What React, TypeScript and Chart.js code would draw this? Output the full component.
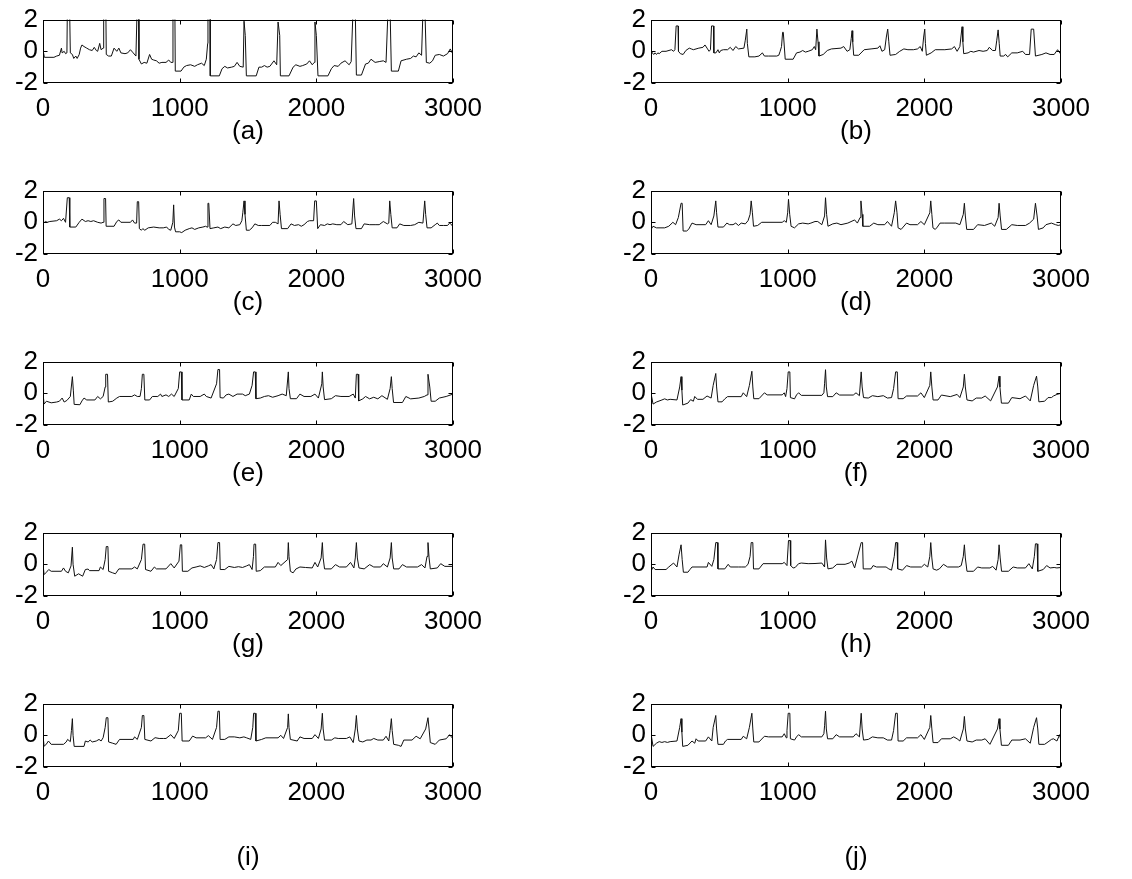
import React, { useEffect, useRef } from "react";
import { Chart, registerables } from "chart.js";

Chart.register(...registerables);

// ---- data ----
const xTicks = [0, 1000, 2000, 3000];
const yTicks = [-2, 0, 2];
const panelLabels = ["(a)", "(b)", "(c)", "(d)", "(e)", "(f)", "(g)", "(h)", "(i)", "(j)"];

const seriesA: [number, number][] = [
  [0,0.1],[10,-0.38],[80,-0.38],[100,-0.3],[120,-0.25],[135,0.2],[140,-0.1],[155,0.0],[165,-0.15],[175,-0.1],[178,2.5],[195,2.5],[200,-0.1],[215,-0.2],[225,-0.45],[240,-0.3],[250,-0.45],[265,-0.2],[275,0.2],[285,0.4],[300,0.3],[320,0.2],[340,0.1],[360,0.05],[375,0.25],[390,0.05],[400,0.0],[415,0.5],[425,0.1],[440,0.2],[444,2.5],[460,2.5],[463,-0.2],[480,-0.3],[500,-0.3],[520,0.2],[540,0.0],[555,0.2],[570,-0.1],[600,-0.15],[620,-0.1],[640,0.1],[660,-0.1],[680,-0.3],[688,2.5],[700,2.5],[702,-0.5],[720,-0.8],[740,-0.7],[760,-0.75],[780,-0.2],[795,-0.5],[810,-0.55],[830,-0.6],[850,-0.75],[870,-0.7],[900,-0.7],[920,-0.55],[935,-0.7],[945,-0.7],[951,2.5],[965,2.5],[968,-1.25],[1010,-1.25],[1030,-1.0],[1050,-0.9],[1080,-0.85],[1110,-0.95],[1130,-0.85],[1160,-0.75],[1180,-0.9],[1195,-0.5],[1205,0.5],[1207,2.5],[1222,2.5],[1224,-1.55],[1290,-1.55],[1310,-1.1],[1330,-0.95],[1350,-1.05],[1380,-1.0],[1400,-0.95],[1420,-0.7],[1440,-0.95],[1465,-1.0],[1471,1.9],[1480,1.0],[1488,-1.55],[1560,-1.55],[1580,-1.0],[1600,-1.0],[1620,-0.9],[1640,-1.0],[1660,-0.95],[1690,-0.6],[1710,-0.85],[1720,1.85],[1732,1.0],[1737,-1.55],[1800,-1.55],[1830,-1.0],[1850,-0.85],[1880,-0.95],[1900,-0.9],[1930,-0.8],[1950,-0.6],[1970,-0.85],[1985,-0.7],[1990,1.85],[2000,1.0],[2012,-1.55],[2085,-1.55],[2110,-1.1],[2130,-0.9],[2160,-0.95],[2180,-0.75],[2210,-0.6],[2240,-0.85],[2255,-0.65],[2268,2.5],[2285,2.5],[2293,-1.5],[2330,-1.5],[2360,-0.8],[2380,-0.75],[2400,-0.5],[2430,-0.7],[2460,-0.65],[2490,-0.6],[2510,-0.7],[2524,2.5],[2540,2.5],[2549,-1.25],[2600,-1.25],[2620,-0.6],[2660,-0.5],[2690,-0.45],[2710,-0.3],[2730,-0.35],[2750,-0.1],[2770,-0.25],[2780,2.5],[2795,2.5],[2805,-0.7],[2830,-0.75],[2850,-0.6],[2870,-0.25],[2900,-0.2],[2930,-0.3],[2960,-0.15],[2980,0.15],[3000,-0.2]
];

const seriesB: [number, number][] = [
  [0,0.1],[10,-0.1],[20,-0.2],[30,-0.1],[40,-0.2],[50,-0.1],[60,-0.15],[80,0.0],[110,0.0],[150,0.1],[165,0.0],[175,0.1],[184,1.6],[198,1.6],[201,0.0],[215,-0.15],[235,-0.2],[255,0.05],[280,0.2],[295,0.15],[310,0.1],[350,0.2],[380,0.25],[395,0.4],[410,0.2],[425,0.0],[435,0.1],[443,1.6],[457,1.6],[460,-0.1],[475,-0.1],[490,0.1],[500,-0.1],[510,0.05],[530,0.1],[560,0.1],[580,0.25],[600,0.05],[620,0.3],[640,0.15],[680,0.2],[690,0.7],[701,1.4],[705,0.5],[716,-0.35],[760,-0.35],[790,-0.3],[815,-0.1],[830,-0.3],[860,-0.3],[920,-0.3],[935,-0.25],[945,0.0],[955,0.3],[963,1.2],[968,1.2],[982,-0.5],[1040,-0.5],[1065,-0.1],[1090,-0.05],[1110,0.05],[1130,-0.05],[1150,0.0],[1180,0.1],[1195,0.3],[1205,0.1],[1214,1.4],[1222,0.6],[1229,-0.3],[1260,-0.2],[1290,0.05],[1320,0.15],[1390,0.2],[1410,0.3],[1435,0.0],[1455,0.1],[1465,0.8],[1471,1.3],[1476,0.6],[1483,-0.25],[1520,-0.25],[1560,0.1],[1610,0.15],[1660,0.2],[1675,0.35],[1690,0.0],[1710,0.1],[1722,0.9],[1732,1.4],[1740,0.6],[1749,-0.25],[1790,-0.2],[1820,0.0],[1850,0.15],[1880,0.1],[1920,0.1],[1950,0.15],[1970,0.3],[1985,0.0],[1995,0.9],[2003,1.4],[2008,0.5],[2015,-0.25],[2050,-0.1],[2080,0.1],[2150,0.1],[2200,0.15],[2220,0.3],[2240,0.0],[2260,0.3],[2276,1.55],[2282,0.6],[2288,-0.15],[2320,-0.1],[2340,0.0],[2360,-0.05],[2400,0.05],[2430,0.0],[2460,0.05],[2475,0.25],[2500,0.05],[2520,0.05],[2530,0.7],[2540,1.35],[2548,0.5],[2555,-0.3],[2580,-0.3],[2595,-0.2],[2610,-0.35],[2640,-0.1],[2680,-0.1],[2720,0.0],[2740,-0.2],[2770,-0.2],[2782,1.4],[2800,1.4],[2813,-0.3],[2860,-0.2],[2890,-0.1],[2920,-0.2],[2950,-0.2],[2975,0.1],[3000,-0.2]
];

const seriesC: [number, number][] = [
  [0,0.05],[10,0.0],[20,0.05],[30,0.0],[50,0.05],[100,0.1],[120,0.2],[135,0.1],[150,0.25],[165,0.0],[178,1.55],[192,1.55],[196,-0.3],[240,-0.3],[265,0.0],[285,0.2],[310,0.05],[330,0.1],[350,0.05],[370,0.1],[400,0.0],[425,-0.05],[440,0.0],[446,1.5],[458,1.5],[462,-0.25],[520,-0.25],[540,0.05],[555,0.15],[570,0.0],[640,0.0],[655,0.15],[670,-0.05],[685,-0.05],[690,1.3],[700,1.3],[705,-0.4],[720,-0.5],[730,-0.4],[745,-0.5],[770,-0.35],[810,-0.3],[850,-0.35],[880,-0.35],[905,-0.3],[920,-0.45],[935,-0.5],[950,0.0],[956,1.1],[962,-0.3],[970,-0.6],[1000,-0.6],[1015,-0.65],[1040,-0.5],[1070,-0.4],[1090,-0.35],[1110,-0.45],[1140,-0.35],[1170,-0.3],[1190,-0.25],[1200,-0.3],[1207,1.2],[1213,1.2],[1222,-0.4],[1250,-0.35],[1280,-0.3],[1300,-0.4],[1330,-0.3],[1360,-0.35],[1390,-0.1],[1410,-0.2],[1440,-0.15],[1455,0.1],[1462,0.6],[1471,1.35],[1478,0.5],[1488,-0.5],[1510,-0.5],[1530,-0.35],[1550,-0.1],[1575,-0.2],[1600,-0.2],[1660,-0.2],[1680,0.0],[1700,0.0],[1720,-0.1],[1727,1.35],[1735,0.5],[1745,-0.4],[1790,-0.4],[1815,-0.1],[1840,-0.2],[1870,-0.15],[1890,-0.25],[1910,-0.15],[1935,0.05],[1950,0.1],[1980,0.1],[1988,1.35],[2000,1.35],[2010,-0.4],[2030,-0.15],[2060,-0.2],[2080,-0.1],[2100,-0.15],[2120,-0.1],[2150,-0.15],[2180,-0.15],[2200,0.05],[2230,-0.15],[2260,-0.1],[2273,1.5],[2280,0.4],[2290,-0.4],[2330,-0.4],[2350,-0.1],[2390,-0.15],[2430,-0.15],[2460,-0.15],[2490,0.05],[2520,-0.1],[2530,-0.05],[2537,1.35],[2545,0.5],[2555,-0.35],[2590,-0.35],[2610,-0.1],[2640,-0.2],[2690,-0.2],[2720,-0.15],[2750,0.0],[2780,-0.05],[2793,1.35],[2800,0.5],[2810,-0.35],[2840,-0.35],[2870,-0.15],[2885,-0.05],[2900,-0.2],[2930,-0.2],[2960,-0.2],[2975,-0.05],[2990,-0.15],[3000,-0.3]
];

const seriesD: [number, number][] = [
  [0,-0.45],[15,-0.25],[40,-0.35],[100,-0.35],[130,-0.25],[160,0.0],[180,-0.15],[200,0.3],[220,1.2],[228,1.2],[235,-0.55],[260,-0.55],[275,-0.45],[300,-0.05],[330,-0.15],[400,-0.15],[420,0.1],[440,-0.15],[460,0.4],[474,1.35],[480,0.6],[490,-0.3],[530,-0.3],[555,-0.05],[575,-0.15],[600,-0.15],[620,-0.05],[640,-0.2],[660,-0.05],[690,-0.1],[710,0.1],[725,0.5],[733,1.35],[742,0.6],[750,-0.25],[780,-0.2],[810,0.0],[960,0.0],[975,0.1],[990,0.0],[1000,0.6],[1006,1.45],[1015,0.5],[1025,-0.25],[1050,-0.35],[1080,-0.1],[1110,-0.05],[1150,-0.1],[1170,-0.05],[1200,0.05],[1220,0.05],[1250,-0.15],[1270,0.4],[1277,1.55],[1285,0.5],[1295,-0.25],[1330,-0.1],[1360,-0.05],[1390,-0.15],[1440,-0.05],[1490,0.15],[1510,-0.05],[1530,0.3],[1536,1.35],[1545,0.5],[1550,-0.25],[1600,-0.25],[1630,-0.05],[1660,-0.15],[1710,-0.15],[1730,0.05],[1760,-0.25],[1780,0.6],[1790,1.35],[1800,0.6],[1808,-0.35],[1830,-0.45],[1845,-0.3],[1870,-0.05],[1895,-0.15],[1950,-0.15],[1975,0.05],[2000,-0.15],[2040,0.6],[2047,1.35],[2055,0.5],[2063,-0.35],[2080,-0.45],[2095,-0.3],[2115,-0.05],[2150,-0.05],[2230,-0.05],[2260,-0.15],[2285,0.5],[2293,1.2],[2300,0.4],[2310,-0.45],[2360,-0.45],[2390,-0.15],[2440,-0.2],[2490,-0.05],[2515,-0.25],[2540,0.3],[2547,1.2],[2555,0.4],[2565,-0.45],[2600,-0.45],[2640,-0.15],[2680,-0.2],[2740,-0.2],[2770,-0.05],[2800,0.2],[2813,1.2],[2825,0.4],[2835,-0.45],[2870,-0.35],[2890,-0.15],[2930,-0.05],[2960,-0.15],[2980,-0.2],[3000,-0.15]
];

const seriesE: [number, number][] = [
  [0,0.0],[8,-0.68],[25,-0.5],[60,-0.6],[100,-0.55],[120,-0.5],[140,-0.3],[155,-0.55],[175,-0.45],[200,-0.2],[215,1.05],[222,0.2],[228,-0.7],[270,-0.72],[285,-0.48],[300,-0.3],[320,-0.42],[380,-0.42],[400,-0.2],[420,-0.35],[440,-0.2],[455,0.4],[459,1.2],[472,1.2],[478,-0.55],[510,-0.5],[540,-0.3],[560,-0.2],[650,-0.2],[670,-0.1],[690,-0.2],[710,-0.2],[720,0.3],[727,1.2],[738,1.2],[745,-0.42],[780,-0.42],[800,-0.2],[840,-0.2],[860,-0.05],[870,-0.2],[900,-0.1],[920,-0.2],[940,-0.05],[960,-0.2],[990,0.3],[1000,1.35],[1012,1.35],[1017,-0.42],[1070,-0.42],[1085,-0.05],[1100,-0.2],[1150,-0.2],[1180,-0.05],[1195,-0.2],[1230,-0.3],[1270,0.6],[1280,1.5],[1292,1.5],[1296,-0.27],[1320,-0.3],[1340,-0.1],[1360,-0.05],[1390,-0.2],[1420,-0.05],[1460,-0.05],[1480,-0.15],[1510,-0.05],[1530,0.5],[1541,1.35],[1553,1.35],[1558,-0.34],[1590,-0.3],[1620,-0.2],[1650,-0.15],[1680,-0.25],[1720,-0.15],[1750,-0.05],[1780,-0.15],[1795,1.35],[1800,0.3],[1810,-0.34],[1855,-0.34],[1880,-0.05],[1910,-0.2],[1960,-0.2],[1990,-0.05],[2015,-0.3],[2040,0.6],[2044,1.35],[2050,0.4],[2060,-0.4],[2110,-0.34],[2140,-0.15],[2180,-0.2],[2240,-0.2],[2270,-0.05],[2285,-0.3],[2293,1.2],[2305,1.2],[2310,-0.48],[2340,-0.35],[2360,-0.2],[2390,-0.35],[2420,-0.25],[2450,-0.35],[2480,-0.15],[2520,-0.38],[2540,0.3],[2549,1.05],[2555,0.3],[2565,-0.58],[2630,-0.58],[2655,-0.2],[2690,-0.35],[2750,-0.3],[2790,-0.2],[2810,-0.1],[2817,1.2],[2830,0.4],[2840,-0.5],[2870,-0.5],[2900,-0.3],[2950,-0.2],[3000,-0.05]
];

const seriesF: [number, number][] = [
  [0,0.0],[15,-0.68],[40,-0.55],[80,-0.42],[100,-0.35],[120,-0.42],[140,-0.38],[190,-0.42],[210,0.4],[220,1.05],[226,0.2],[232,-0.74],[270,-0.62],[290,-0.4],[310,-0.5],[320,-0.2],[340,-0.38],[380,-0.38],[410,-0.17],[440,-0.3],[455,0.5],[474,1.25],[480,0.4],[490,-0.54],[520,-0.54],[540,-0.35],[560,-0.21],[660,-0.21],[675,0.03],[700,-0.21],[720,0.5],[738,1.39],[745,0.4],[752,-0.34],[790,-0.34],[830,0.03],[850,-0.1],[960,-0.1],[975,0.03],[985,-0.21],[995,0.3],[1004,1.35],[1016,1.35],[1020,-0.27],[1050,-0.35],[1065,-0.1],[1080,0.03],[1100,-0.13],[1250,-0.13],[1265,0.03],[1270,0.6],[1277,1.49],[1283,0.4],[1292,-0.21],[1330,-0.21],[1355,0.03],[1380,-0.11],[1480,-0.11],[1500,0.03],[1525,-0.15],[1538,1.35],[1545,0.4],[1555,-0.27],[1590,-0.3],[1620,-0.15],[1660,-0.21],[1700,-0.15],[1730,-0.3],[1760,-0.27],[1775,0.3],[1790,1.35],[1802,1.35],[1808,-0.34],[1845,-0.34],[1870,-0.17],[1950,-0.17],[1975,0.03],[2000,-0.27],[2040,0.5],[2047,1.35],[2055,0.4],[2064,-0.42],[2100,-0.42],[2125,-0.11],[2190,-0.21],[2240,-0.07],[2260,-0.27],[2285,0.4],[2293,1.2],[2300,0.4],[2312,-0.42],[2350,-0.48],[2380,-0.3],[2420,-0.3],[2445,-0.17],[2485,-0.48],[2535,0.4],[2547,1.08],[2553,0.4],[2564,-0.62],[2615,-0.62],[2640,-0.27],[2700,-0.34],[2740,-0.17],[2775,-0.48],[2800,0.5],[2821,1.08],[2830,0.4],[2838,-0.54],[2880,-0.5],[2905,-0.27],[2930,-0.27],[2945,-0.17],[2970,-0.07],[3000,0.0]
];

const seriesG: [number, number][] = [
  [0,0.0],[8,-0.65],[25,-0.5],[42,-0.33],[60,-0.44],[135,-0.44],[150,-0.23],[165,-0.44],[185,-0.54],[205,-0.1],[215,1.08],[220,0.0],[232,-0.75],[260,-0.6],[290,-0.75],[310,-0.33],[330,-0.3],[340,-0.4],[410,-0.4],[420,-0.17],[440,-0.33],[455,0.3],[463,1.12],[475,1.12],[480,-0.44],[510,-0.54],[530,-0.6],[555,-0.29],[650,-0.29],[670,-0.17],[690,-0.29],[720,0.3],[732,1.27],[744,1.27],[750,-0.33],[790,-0.44],[815,-0.17],[830,-0.29],[900,-0.29],[935,0.04],[960,-0.23],[995,0.2],[1005,1.23],[1015,1.23],[1020,-0.44],[1060,-0.44],[1090,-0.23],[1120,-0.17],[1150,-0.1],[1180,-0.2],[1210,-0.1],[1230,-0.02],[1250,-0.29],[1270,0.3],[1280,1.37],[1292,1.37],[1297,-0.33],[1330,-0.33],[1360,-0.13],[1400,-0.2],[1430,-0.15],[1460,-0.2],[1490,-0.1],[1510,-0.02],[1530,-0.33],[1540,0.5],[1544,1.27],[1556,1.27],[1560,-0.44],[1590,-0.4],[1620,-0.17],[1700,-0.17],[1720,0.12],[1740,-0.08],[1790,0.3],[1795,1.37],[1800,0.5],[1810,-0.44],[1830,-0.54],[1850,-0.3],[1880,-0.17],[1920,-0.2],[1970,-0.23],[1990,0.12],[2010,-0.17],[2035,0.4],[2044,1.37],[2050,0.4],[2060,-0.29],[2110,-0.29],[2140,-0.02],[2170,-0.17],[2220,-0.17],[2250,0.12],[2275,-0.23],[2285,0.4],[2293,1.37],[2300,0.4],[2312,-0.23],[2350,-0.29],[2390,-0.02],[2420,-0.17],[2470,-0.17],[2490,0.04],[2520,-0.17],[2540,0.4],[2549,1.37],[2555,0.4],[2566,-0.29],[2605,-0.29],[2630,-0.02],[2660,-0.17],[2740,-0.17],[2770,-0.02],[2795,-0.23],[2810,0.5],[2817,1.37],[2825,0.4],[2834,-0.29],[2885,-0.23],[2910,0.04],[2940,-0.13],[3000,-0.13]
];

const seriesH: [number, number][] = [
  [0,-0.44],[15,-0.17],[30,-0.33],[110,-0.33],[130,-0.17],[165,0.08],[190,-0.17],[205,0.6],[220,1.23],[228,0.3],[237,-0.5],[270,-0.5],[285,-0.33],[300,-0.17],[410,-0.17],[420,0.12],[445,-0.13],[460,0.3],[474,1.37],[486,1.37],[490,-0.29],[540,-0.29],[565,0.0],[580,-0.17],[640,-0.17],[660,-0.17],[690,-0.17],[710,0.0],[725,0.5],[733,1.37],[745,1.37],[750,-0.29],[790,-0.29],[820,0.04],[960,0.04],[975,0.12],[995,-0.08],[1006,1.5],[1018,1.5],[1022,-0.08],[1040,-0.23],[1055,-0.2],[1080,0.04],[1100,0.08],[1150,0.04],[1200,0.05],[1250,0.08],[1270,-0.17],[1277,1.54],[1285,0.4],[1295,-0.29],[1330,-0.23],[1360,0.0],[1420,0.0],[1450,0.08],[1470,0.2],[1490,-0.23],[1538,1.37],[1548,1.37],[1553,-0.29],[1610,-0.29],[1625,-0.08],[1650,-0.17],[1720,-0.17],[1740,-0.29],[1760,-0.37],[1780,0.5],[1790,1.37],[1800,1.37],[1805,-0.29],[1840,-0.37],[1870,-0.08],[1900,-0.17],[1980,-0.17],[2000,0.0],[2025,-0.17],[2040,0.5],[2047,1.37],[2055,0.4],[2064,-0.29],[2090,-0.37],[2110,-0.29],[2140,0.0],[2170,-0.17],[2250,-0.17],[2270,-0.08],[2285,0.5],[2293,1.23],[2300,0.4],[2312,-0.44],[2360,-0.44],[2390,-0.17],[2420,-0.23],[2480,-0.23],[2500,-0.13],[2525,-0.37],[2540,0.3],[2547,1.23],[2555,0.4],[2565,-0.44],[2615,-0.44],[2650,-0.17],[2680,-0.23],[2740,-0.23],[2765,0.04],[2790,-0.29],[2805,0.5],[2813,1.29],[2825,1.29],[2830,-0.44],[2870,-0.33],[2895,-0.08],[2920,-0.23],[2950,-0.2],[2970,-0.23],[3000,-0.2]
];

const seriesI: [number, number][] = [
  [0,0.0],[8,-0.7],[25,-0.55],[40,-0.36],[60,-0.57],[150,-0.57],[170,-0.42],[180,-0.26],[200,-0.4],[208,0.3],[215,1.05],[220,0.0],[228,-0.7],[300,-0.7],[310,-0.36],[330,-0.42],[345,-0.3],[360,-0.42],[390,-0.36],[410,-0.26],[425,-0.36],[440,-0.15],[455,0.5],[463,1.11],[475,1.11],[480,-0.42],[510,-0.5],[535,-0.57],[560,-0.26],[660,-0.26],[670,-0.1],[690,-0.26],[720,0.5],[727,1.25],[738,1.25],[745,-0.26],[790,-0.36],[820,-0.15],[850,-0.2],[880,-0.2],[900,-0.2],[935,0.04],[960,-0.2],[990,0.3],[1000,1.39],[1012,1.39],[1018,-0.36],[1070,-0.36],[1095,-0.05],[1120,-0.16],[1190,-0.16],[1210,-0.02],[1240,-0.26],[1270,0.5],[1280,1.52],[1290,1.52],[1296,-0.26],[1330,-0.26],[1360,-0.1],[1400,-0.1],[1440,-0.16],[1470,-0.1],[1490,-0.16],[1520,-0.26],[1535,0.5],[1541,1.39],[1553,1.39],[1558,-0.36],[1600,-0.26],[1630,-0.16],[1720,-0.16],[1740,0.0],[1760,-0.2],[1790,0.5],[1795,1.35],[1800,0.5],[1810,-0.26],[1860,-0.36],[1880,-0.1],[1910,-0.2],[1970,-0.2],[1990,0.04],[2015,-0.2],[2035,0.4],[2044,1.39],[2050,0.4],[2060,-0.3],[2110,-0.3],[2135,-0.16],[2160,-0.2],[2220,-0.2],[2245,-0.1],[2270,-0.46],[2285,0.4],[2293,1.25],[2300,0.4],[2312,-0.36],[2340,-0.42],[2370,-0.3],[2400,-0.3],[2420,-0.2],[2450,-0.3],[2490,-0.3],[2510,-0.06],[2530,-0.36],[2540,0.3],[2549,1.05],[2555,0.3],[2566,-0.57],[2600,-0.63],[2620,-0.7],[2640,-0.3],[2700,-0.3],[2730,-0.06],[2760,-0.22],[2800,0.4],[2817,1.11],[2825,0.4],[2834,-0.46],[2870,-0.57],[2900,-0.3],[2950,-0.22],[2975,0.04],[3000,-0.22]
];

const seriesJ: [number, number][] = [
  [0,0.1],[15,-0.7],[40,-0.5],[60,-0.4],[80,-0.45],[100,-0.4],[120,-0.45],[140,-0.4],[190,-0.36],[210,0.5],[220,1.05],[226,0.2],[232,-0.7],[270,-0.63],[300,-0.36],[320,-0.5],[330,-0.22],[345,-0.36],[400,-0.36],[420,-0.1],[445,-0.36],[455,0.5],[474,1.25],[480,0.4],[490,-0.57],[530,-0.57],[545,-0.36],[560,-0.26],[660,-0.26],[675,-0.06],[700,-0.22],[720,0.5],[738,1.39],[745,0.4],[752,-0.42],[790,-0.42],[830,-0.06],[860,-0.1],[960,-0.1],[975,0.1],[990,-0.16],[995,0.3],[1004,1.39],[1016,1.39],[1020,-0.22],[1050,-0.3],[1065,-0.1],[1080,0.04],[1100,-0.1],[1250,-0.1],[1265,0.1],[1270,0.6],[1277,1.52],[1283,0.4],[1292,-0.22],[1330,-0.22],[1355,0.04],[1380,-0.1],[1480,-0.1],[1500,0.1],[1525,-0.1],[1538,1.39],[1545,0.4],[1555,-0.3],[1590,-0.26],[1620,-0.1],[1660,-0.16],[1700,-0.16],[1730,-0.3],[1760,-0.3],[1775,0.3],[1790,1.39],[1802,1.39],[1808,-0.36],[1845,-0.36],[1870,-0.16],[1950,-0.16],[1975,0.04],[2000,-0.26],[2040,0.5],[2047,1.25],[2055,0.4],[2064,-0.46],[2100,-0.46],[2125,-0.22],[2190,-0.22],[2215,-0.1],[2240,-0.22],[2260,-0.36],[2285,0.4],[2293,1.19],[2300,0.4],[2312,-0.36],[2350,-0.42],[2380,-0.3],[2420,-0.3],[2445,-0.22],[2480,-0.57],[2535,0.4],[2547,1.05],[2553,0.4],[2564,-0.63],[2615,-0.63],[2640,-0.3],[2700,-0.3],[2740,-0.22],[2775,-0.5],[2800,0.5],[2821,1.11],[2830,0.4],[2838,-0.57],[2880,-0.57],[2905,-0.42],[2930,-0.26],[2945,-0.22],[2970,-0.36],[2990,0.04],[3000,-0.36]
];

const panelSeries = [seriesA, seriesB, seriesC, seriesD, seriesE, seriesF, seriesG, seriesH, seriesI, seriesJ];

// ---- layout ----
const COL_LEFT = [43, 651];
const ROW_TOP = [17, 188, 359, 530, 701];
const BOX_W = 410;
const BOX_H = 66;
const Y_AXIS_W = 45;
const PAD_TOP = 18;
const PAD_RIGHT = 40;
const FONT = "'Liberation Sans', Arial, Helvetica, sans-serif";
const FONT_SIZE = 26;

const framePlugin = {
  id: "matlabFrame",
  afterDraw(chart: any) {
    const { ctx, chartArea: a, scales } = chart;
    ctx.save();
    ctx.strokeStyle = "#000";
    ctx.lineWidth = 1;
    const l = Math.round(a.left) + 0.5;
    const t = Math.round(a.top) + 0.5;
    const r = Math.round(a.right) - 0.5;
    const b = Math.round(a.bottom) - 0.5;
    ctx.strokeRect(l, t, r - l, b - t);
    const len = 4;
    ctx.beginPath();
    xTicks.forEach((v) => {
      const px = Math.round(scales.x.getPixelForValue(v)) + 0.5;
      ctx.moveTo(px, t);
      ctx.lineTo(px, t + len);
      ctx.moveTo(px, b);
      ctx.lineTo(px, b - len);
    });
    yTicks.forEach((v) => {
      const py = Math.round(scales.y.getPixelForValue(v)) + 0.5;
      ctx.moveTo(l, py);
      ctx.lineTo(l + len, py);
      ctx.moveTo(r, py);
      ctx.lineTo(r - len, py);
    });
    ctx.stroke();
    ctx.restore();
  },
};

function Panel({ idx }: { idx: number }) {
  const ref = useRef<HTMLCanvasElement | null>(null);
  const col = idx % 2;
  const row = Math.floor(idx / 2);
  const lastRow = row === ROW_TOP.length - 1;
  const xAxisH = lastRow ? 112 : 70;
  const width = Y_AXIS_W + BOX_W + PAD_RIGHT;
  const height = PAD_TOP + BOX_H + xAxisH;

  useEffect(() => {
    if (!ref.current) return;
    const data = panelSeries[idx].map(([x, y]) => ({ x, y }));
    const chart = new Chart(ref.current, {
      type: "line",
      data: {
        datasets: [
          {
            data,
            borderColor: "#111",
            borderWidth: 1,
            pointRadius: 0,
            tension: 0,
            fill: false,
          },
        ],
      },
      options: {
        animation: false,
        responsive: false,
        maintainAspectRatio: false,
        events: [],
        layout: { padding: { top: PAD_TOP, right: PAD_RIGHT, left: 0, bottom: 0 } },
        plugins: { legend: { display: false }, tooltip: { enabled: false }, title: { display: false } },
        scales: {
          x: {
            type: "linear",
            min: 0,
            max: 3000,
            afterBuildTicks: (s: any) => {
              s.ticks = xTicks.map((v) => ({ value: v }));
            },
            afterFit: (s: any) => {
              s.height = xAxisH;
            },
            ticks: {
              autoSkip: false,
              maxRotation: 0,
              padding: 10,
              color: "#000",
              font: { family: FONT, size: FONT_SIZE },
              callback: (v: any) => String(v),
            },
            grid: { display: false, drawTicks: false },
            border: { display: false },
            title: {
              display: true,
              text: panelLabels[idx],
              color: "#000",
              font: { family: FONT, size: FONT_SIZE },
              padding: { top: 0, bottom: 6 },
            },
          },
          y: {
            type: "linear",
            min: -2,
            max: 2,
            afterBuildTicks: (s: any) => {
              s.ticks = yTicks.map((v) => ({ value: v }));
            },
            afterFit: (s: any) => {
              s.width = Y_AXIS_W;
            },
            ticks: {
              autoSkip: false,
              padding: 5,
              color: "#000",
              font: { family: FONT, size: FONT_SIZE },
              callback: (v: any) => String(v),
            },
            grid: { display: false, drawTicks: false },
            border: { display: false },
          },
        },
      },
      plugins: [framePlugin],
    } as any);
    return () => chart.destroy();
  }, [idx]);

  return (
    <canvas
      ref={ref}
      width={width}
      height={height}
      style={{
        position: "absolute",
        left: COL_LEFT[col] - Y_AXIS_W,
        top: ROW_TOP[row] - PAD_TOP,
        width,
        height,
      }}
    />
  );
}

export default function App() {
  return (
    <div
      style={{
        position: "absolute",
        left: 0,
        top: 0,
        width: 1132,
        height: 879,
        background: "#fff",
        overflow: "hidden",
      }}
    >
      {panelLabels.map((_, i) => (
        <Panel key={i} idx={i} />
      ))}
    </div>
  );
}
